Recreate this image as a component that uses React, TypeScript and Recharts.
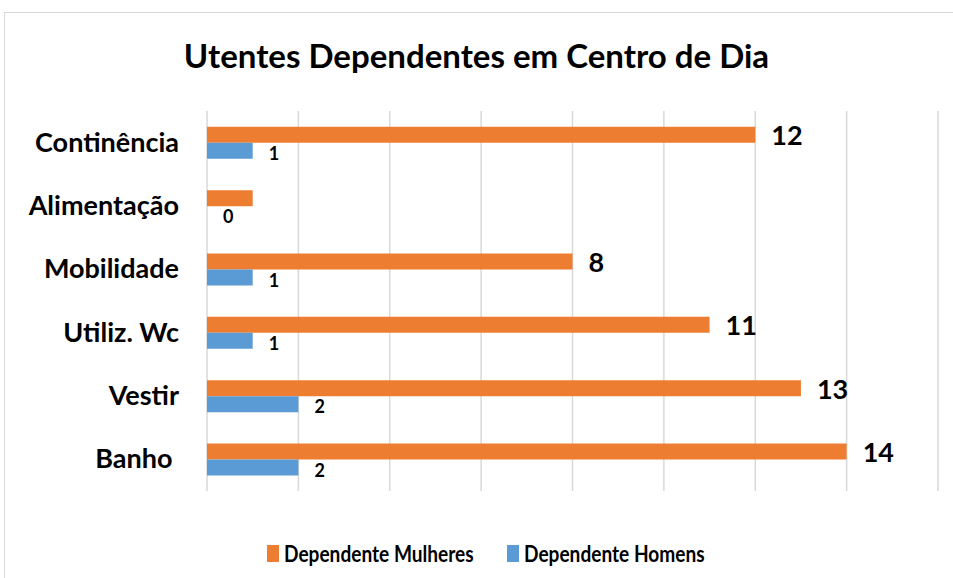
import React from "react";
import { Bar, BarChart, CartesianGrid, LabelList, Legend, XAxis, YAxis } from "recharts";

const categories = ["Continência", "Alimentação", "Mobilidade", "Utiliz. Wc", "Vestir", "Banho "];
const mulheres = [12, 1, 8, 11, 13, 14];
const homens = [1, 0, 1, 1, 2, 2];
const xTicks = [0, 2, 4, 6, 8, 10, 12, 14, 16];
// the source chart shows no label on this orange bar
const hiddenMulheresLabels = ["Alimentação"];

const data = categories.map((name, i) => ({
  name,
  mulheres: mulheres[i],
  homens: homens[i],
}));

const FONT = "Lato, 'Open Sans', sans-serif";
const ORANGE = "#ed7d31";
const BLUE = "#5b9bd5";

function CategoryTick({ x, y, payload }: any) {
  return (
    <text
      x={x - 22}
      y={y}
      dy={9}
      textAnchor="end"
      fontFamily={FONT}
      fontWeight={700}
      fontSize={27}
      fill="#000"
      style={{ whiteSpace: "pre" }}
    >
      {payload.value}
    </text>
  );
}

function MulheresLabel({ x, y, width, height, value, index }: any) {
  if (hiddenMulheresLabels.includes(categories[index])) return null;
  return (
    <text x={x + width + 16} y={y + height / 2} dominantBaseline="central" fontFamily={FONT} fontWeight={700} fontSize={27} fill="#000">
      {value}
    </text>
  );
}

function HomensLabel({ x, y, width, height, value }: any) {
  return (
    <text x={x + width + 16} y={y + height / 2 + 2} dominantBaseline="central" fontFamily={FONT} fontWeight={700} fontSize={18} fill="#000">
      {value}
    </text>
  );
}

function LegendContent() {
  const items = [
    { label: "Dependente Mulheres", color: ORANGE, left: 0 },
    { label: "Dependente Homens", color: BLUE, left: 240 },
  ];
  return (
    <div style={{ position: "relative", height: 24, fontFamily: FONT, fontWeight: 700, fontSize: 23, color: "#000" }}>
      {items.map((it) => (
        <div key={it.label} style={{ position: "absolute", left: it.left, top: 0, display: "flex", alignItems: "center", whiteSpace: "nowrap" }}>
          <span style={{ display: "inline-block", width: 12, height: 17, background: it.color, marginRight: 5 }} />
          <span style={{ display: "inline-block", transform: "scaleX(0.83)", transformOrigin: "left center" }}>{it.label}</span>
        </div>
      ))}
    </div>
  );
}

export default function App() {
  return (
    <div style={{ position: "absolute", left: 0, top: 0, width: 953, height: 578, overflow: "hidden", background: "#fff" }}>
      <div style={{ position: "absolute", left: 4, top: 12, width: 1000, height: 1, background: "#d9d9d9" }} />
      <div style={{ position: "absolute", left: 4, top: 12, width: 1, height: 600, background: "#d9d9d9" }} />
      <div
        style={{
          position: "absolute",
          top: 35,
          left: 0,
          width: 953,
          textAlign: "center",
          fontFamily: FONT,
          fontWeight: 700,
          fontSize: 33,
        }}
      >
        Utentes Dependentes em Centro de Dia
      </div>
      <div style={{ position: "absolute", left: 0, top: 0 }}>
        <BarChart
          width={953}
          height={578}
          data={data}
          layout="vertical"
          margin={{ top: 111, right: 15, bottom: 63, left: 0 }}
          barCategoryGap="25%"
          barGap={0}
        >
          <CartesianGrid horizontal={false} stroke="#d9d9d9" strokeWidth={1.5} />
          <XAxis type="number" domain={[0, 16]} ticks={xTicks} hide />
          <YAxis
            type="category"
            dataKey="name"
            width={207}
            axisLine={false}
            tickLine={false}
            tick={<CategoryTick />}
            tickMargin={0}
            interval={0}
          />
          <Legend
            content={<LegendContent />}
            wrapperStyle={{ position: "absolute", top: 539, left: 267, width: 680 }}
          />
          <Bar dataKey="mulheres" fill={ORANGE} isAnimationActive={false}>
            <LabelList dataKey="mulheres" content={<MulheresLabel />} />
          </Bar>
          <Bar
            dataKey="homens"
            fill={BLUE}
            isAnimationActive={false}
            minPointSize={(v: number) => (v === 0 ? 0.01 : 0)}
          >
            <LabelList dataKey="homens" content={<HomensLabel />} />
          </Bar>
        </BarChart>
      </div>
    </div>
  );
}
